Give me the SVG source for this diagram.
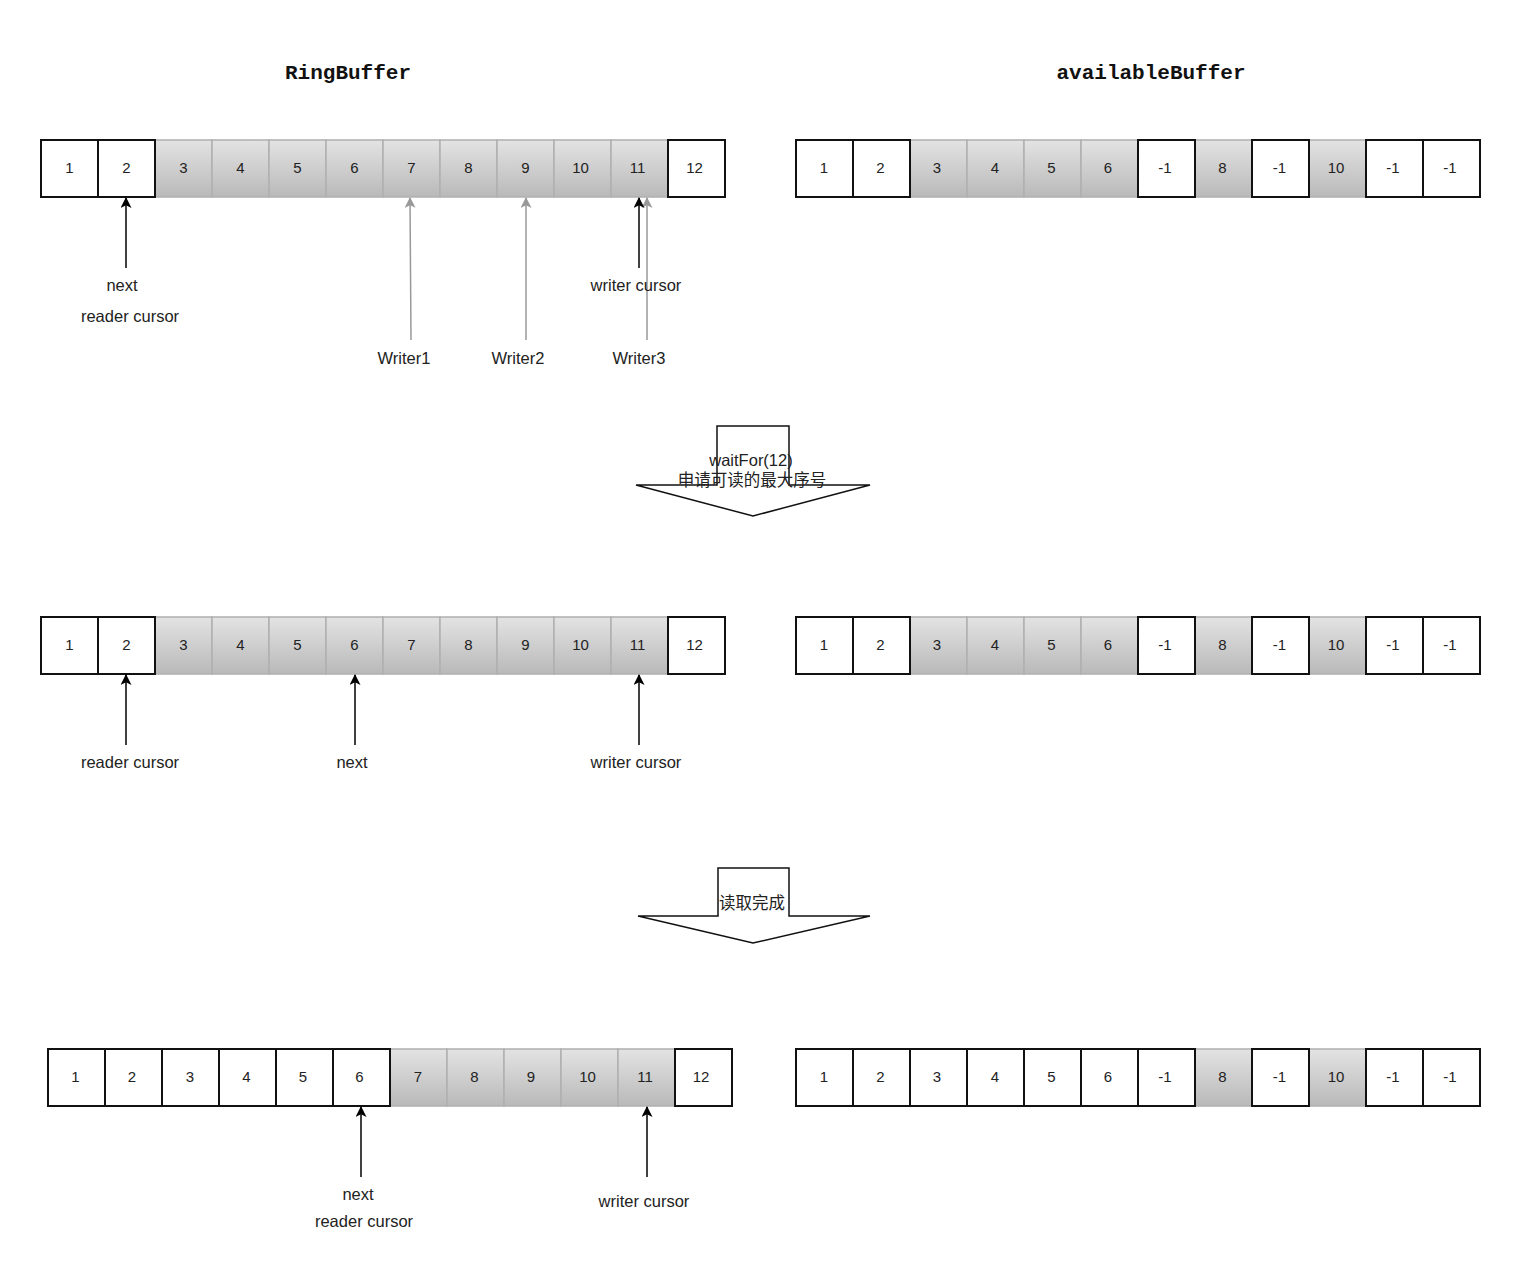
<svg xmlns="http://www.w3.org/2000/svg" width="1538" height="1278" viewBox="0 0 1538 1278">
<defs>
<linearGradient id="g" x1="0" y1="0" x2="0" y2="1">
<stop offset="0" stop-color="#e3e3e3"/>
<stop offset="1" stop-color="#b9b9b9"/>
</linearGradient>
<marker id="ab" viewBox="0 0 10 10" refX="9" refY="5" markerWidth="12" markerHeight="11" markerUnits="userSpaceOnUse" orient="auto"><path d="M0,0 L10,5 L0,10 L2.5,5 Z" fill="#000"/></marker>
<marker id="ag" viewBox="0 0 10 10" refX="9" refY="5" markerWidth="12" markerHeight="11" markerUnits="userSpaceOnUse" orient="auto"><path d="M0,0 L10,5 L0,10 L2.5,5 Z" fill="#999"/></marker>
</defs>
<style>
.w{fill:#fff;stroke:#111;stroke-width:2}
.gr{fill:url(#g);stroke:#b0b0b0;stroke-width:1.5}
.n{font-family:"Liberation Sans",Arial,sans-serif;font-size:15px;fill:#222;text-anchor:middle}
.l{font-family:"Liberation Sans",Arial,sans-serif;font-size:16.5px;fill:#222;text-anchor:middle}
.t{font-family:"Liberation Mono","Courier New",monospace;font-size:21px;font-weight:bold;fill:#111;text-anchor:middle}
.cj{font-family:"Liberation Sans","Noto Sans CJK SC",sans-serif;font-size:16.5px;fill:#222;text-anchor:middle}
.b{stroke:#000;stroke-width:1.5;fill:none;marker-end:url(#ab)}
.gy{stroke:#999;stroke-width:1.5;fill:none;marker-end:url(#ag)}
.ba{fill:#fff;stroke:#111;stroke-width:1.5}
</style>
<rect width="1538" height="1278" fill="#fff"/>
<text class="t" x="348" y="79">RingBuffer</text>
<text class="t" x="1151" y="79">availableBuffer</text>

<!-- Row 1 left -->
<g id="rb1">
<rect class="gr" x="155" y="140" width="57" height="57"/><rect class="gr" x="212" y="140" width="57" height="57"/><rect class="gr" x="269" y="140" width="57" height="57"/><rect class="gr" x="326" y="140" width="57" height="57"/><rect class="gr" x="383" y="140" width="57" height="57"/><rect class="gr" x="440" y="140" width="57" height="57"/><rect class="gr" x="497" y="140" width="57" height="57"/><rect class="gr" x="554" y="140" width="57" height="57"/><rect class="gr" x="611" y="140" width="57" height="57"/>
<rect class="w" x="41" y="140" width="57" height="57"/><rect class="w" x="98" y="140" width="57" height="57"/><rect class="w" x="668" y="140" width="57" height="57"/>
<text class="n" x="69.5" y="173">1</text><text class="n" x="126.5" y="173">2</text><text class="n" x="183.5" y="173">3</text><text class="n" x="240.5" y="173">4</text><text class="n" x="297.5" y="173">5</text><text class="n" x="354.5" y="173">6</text><text class="n" x="411.5" y="173">7</text><text class="n" x="468.5" y="173">8</text><text class="n" x="525.5" y="173">9</text><text class="n" x="580.5" y="173">10</text><text class="n" x="637.5" y="173">11</text><text class="n" x="694.5" y="173">12</text>
</g>
<!-- Row 1 right -->
<g id="ab1">
<rect class="gr" x="910" y="140" width="57" height="57"/><rect class="gr" x="967" y="140" width="57" height="57"/><rect class="gr" x="1024" y="140" width="57" height="57"/><rect class="gr" x="1081" y="140" width="57" height="57"/><rect class="gr" x="1195" y="140" width="57" height="57"/><rect class="gr" x="1309" y="140" width="57" height="57"/>
<rect class="w" x="796" y="140" width="57" height="57"/><rect class="w" x="853" y="140" width="57" height="57"/><rect class="w" x="1138" y="140" width="57" height="57"/><rect class="w" x="1252" y="140" width="57" height="57"/><rect class="w" x="1366" y="140" width="57" height="57"/><rect class="w" x="1423" y="140" width="57" height="57"/>
<text class="n" x="824" y="173">1</text><text class="n" x="880.5" y="173">2</text><text class="n" x="937" y="173">3</text><text class="n" x="995" y="173">4</text><text class="n" x="1051.5" y="173">5</text><text class="n" x="1108" y="173">6</text><text class="n" x="1165" y="173">-1</text><text class="n" x="1222.5" y="173">8</text><text class="n" x="1279.5" y="173">-1</text><text class="n" x="1336" y="173">10</text><text class="n" x="1393" y="173">-1</text><text class="n" x="1450" y="173">-1</text>
</g>

<!-- Row 2 left -->
<g id="rb2">
<rect class="gr" x="155" y="617" width="57" height="57"/><rect class="gr" x="212" y="617" width="57" height="57"/><rect class="gr" x="269" y="617" width="57" height="57"/><rect class="gr" x="326" y="617" width="57" height="57"/><rect class="gr" x="383" y="617" width="57" height="57"/><rect class="gr" x="440" y="617" width="57" height="57"/><rect class="gr" x="497" y="617" width="57" height="57"/><rect class="gr" x="554" y="617" width="57" height="57"/><rect class="gr" x="611" y="617" width="57" height="57"/>
<rect class="w" x="41" y="617" width="57" height="57"/><rect class="w" x="98" y="617" width="57" height="57"/><rect class="w" x="668" y="617" width="57" height="57"/>
<text class="n" x="69.5" y="650">1</text><text class="n" x="126.5" y="650">2</text><text class="n" x="183.5" y="650">3</text><text class="n" x="240.5" y="650">4</text><text class="n" x="297.5" y="650">5</text><text class="n" x="354.5" y="650">6</text><text class="n" x="411.5" y="650">7</text><text class="n" x="468.5" y="650">8</text><text class="n" x="525.5" y="650">9</text><text class="n" x="580.5" y="650">10</text><text class="n" x="637.5" y="650">11</text><text class="n" x="694.5" y="650">12</text>
</g>
<!-- Row 2 right -->
<g id="ab2">
<rect class="gr" x="910" y="617" width="57" height="57"/><rect class="gr" x="967" y="617" width="57" height="57"/><rect class="gr" x="1024" y="617" width="57" height="57"/><rect class="gr" x="1081" y="617" width="57" height="57"/><rect class="gr" x="1195" y="617" width="57" height="57"/><rect class="gr" x="1309" y="617" width="57" height="57"/>
<rect class="w" x="796" y="617" width="57" height="57"/><rect class="w" x="853" y="617" width="57" height="57"/><rect class="w" x="1138" y="617" width="57" height="57"/><rect class="w" x="1252" y="617" width="57" height="57"/><rect class="w" x="1366" y="617" width="57" height="57"/><rect class="w" x="1423" y="617" width="57" height="57"/>
<text class="n" x="824" y="650">1</text><text class="n" x="880.5" y="650">2</text><text class="n" x="937" y="650">3</text><text class="n" x="995" y="650">4</text><text class="n" x="1051.5" y="650">5</text><text class="n" x="1108" y="650">6</text><text class="n" x="1165" y="650">-1</text><text class="n" x="1222.5" y="650">8</text><text class="n" x="1279.5" y="650">-1</text><text class="n" x="1336" y="650">10</text><text class="n" x="1393" y="650">-1</text><text class="n" x="1450" y="650">-1</text>
</g>

<!-- Row 3 left -->
<g id="rb3">
<rect class="gr" x="390" y="1049" width="57" height="57"/><rect class="gr" x="447" y="1049" width="57" height="57"/><rect class="gr" x="504" y="1049" width="57" height="57"/><rect class="gr" x="561" y="1049" width="57" height="57"/><rect class="gr" x="618" y="1049" width="57" height="57"/>
<rect class="w" x="48" y="1049" width="57" height="57"/><rect class="w" x="105" y="1049" width="57" height="57"/><rect class="w" x="162" y="1049" width="57" height="57"/><rect class="w" x="219" y="1049" width="57" height="57"/><rect class="w" x="276" y="1049" width="57" height="57"/><rect class="w" x="333" y="1049" width="57" height="57"/><rect class="w" x="675" y="1049" width="57" height="57"/>
<text class="n" x="75.5" y="1082">1</text><text class="n" x="132" y="1082">2</text><text class="n" x="190" y="1082">3</text><text class="n" x="246.5" y="1082">4</text><text class="n" x="303" y="1082">5</text><text class="n" x="359.5" y="1082">6</text><text class="n" x="418" y="1082">7</text><text class="n" x="474.5" y="1082">8</text><text class="n" x="531" y="1082">9</text><text class="n" x="587.5" y="1082">10</text><text class="n" x="645" y="1082">11</text><text class="n" x="701" y="1082">12</text>
</g>
<!-- Row 3 right -->
<g id="ab3">
<rect class="gr" x="1195" y="1049" width="57" height="57"/><rect class="gr" x="1309" y="1049" width="57" height="57"/>
<rect class="w" x="796" y="1049" width="57" height="57"/><rect class="w" x="853" y="1049" width="57" height="57"/><rect class="w" x="910" y="1049" width="57" height="57"/><rect class="w" x="967" y="1049" width="57" height="57"/><rect class="w" x="1024" y="1049" width="57" height="57"/><rect class="w" x="1081" y="1049" width="57" height="57"/><rect class="w" x="1138" y="1049" width="57" height="57"/><rect class="w" x="1252" y="1049" width="57" height="57"/><rect class="w" x="1366" y="1049" width="57" height="57"/><rect class="w" x="1423" y="1049" width="57" height="57"/>
<text class="n" x="824" y="1082">1</text><text class="n" x="880.5" y="1082">2</text><text class="n" x="937" y="1082">3</text><text class="n" x="995" y="1082">4</text><text class="n" x="1051.5" y="1082">5</text><text class="n" x="1108" y="1082">6</text><text class="n" x="1165" y="1082">-1</text><text class="n" x="1222.5" y="1082">8</text><text class="n" x="1279.5" y="1082">-1</text><text class="n" x="1336" y="1082">10</text><text class="n" x="1393" y="1082">-1</text><text class="n" x="1450" y="1082">-1</text>
</g>

<!-- Block arrows -->
<g id="step1">
<polygon class="ba" points="717,426 789,426 789,485 870,485 753,516 636,485 717,485"/>
<text class="l" x="751" y="466">waitFor(12)</text>
<text class="cj" x="752" y="486">申请可读的最大序号</text>
</g>
<g id="step2">
<polygon class="ba" points="718,868 789,868 789,916 870,916 753,943 638,916 718,916"/>
<text class="cj" x="752" y="909">读取完成</text>
</g>

<!-- Connectors -->
<g id="connectors">
<line class="b" x1="126" y1="268" x2="126" y2="198"/>
<line class="gy" x1="411" y1="340" x2="410" y2="198"/>
<line class="gy" x1="526" y1="340" x2="526" y2="198"/>
<line class="gy" x1="647" y1="340" x2="647" y2="198"/>
<line class="b" x1="639" y1="268" x2="639" y2="198"/>
<line class="b" x1="126" y1="745" x2="126" y2="675"/>
<line class="b" x1="355" y1="745" x2="355" y2="675"/>
<line class="b" x1="639" y1="745" x2="639" y2="675"/>
<line class="b" x1="361" y1="1177" x2="361" y2="1107"/>
<line class="b" x1="647" y1="1177" x2="647" y2="1107"/>
</g>

<!-- Labels -->
<g id="labels">
<text class="l" x="122" y="291">next</text>
<text class="l" x="130" y="322">reader cursor</text>
<text class="l" x="404" y="364">Writer1</text>
<text class="l" x="518" y="364">Writer2</text>
<text class="l" x="639" y="364">Writer3</text>
<text class="l" x="636" y="291">writer cursor</text>
<text class="l" x="130" y="768">reader cursor</text>
<text class="l" x="352" y="768">next</text>
<text class="l" x="636" y="768">writer cursor</text>
<text class="l" x="358" y="1200">next</text>
<text class="l" x="364" y="1227">reader cursor</text>
<text class="l" x="644" y="1207">writer cursor</text>
</g>
</svg>
